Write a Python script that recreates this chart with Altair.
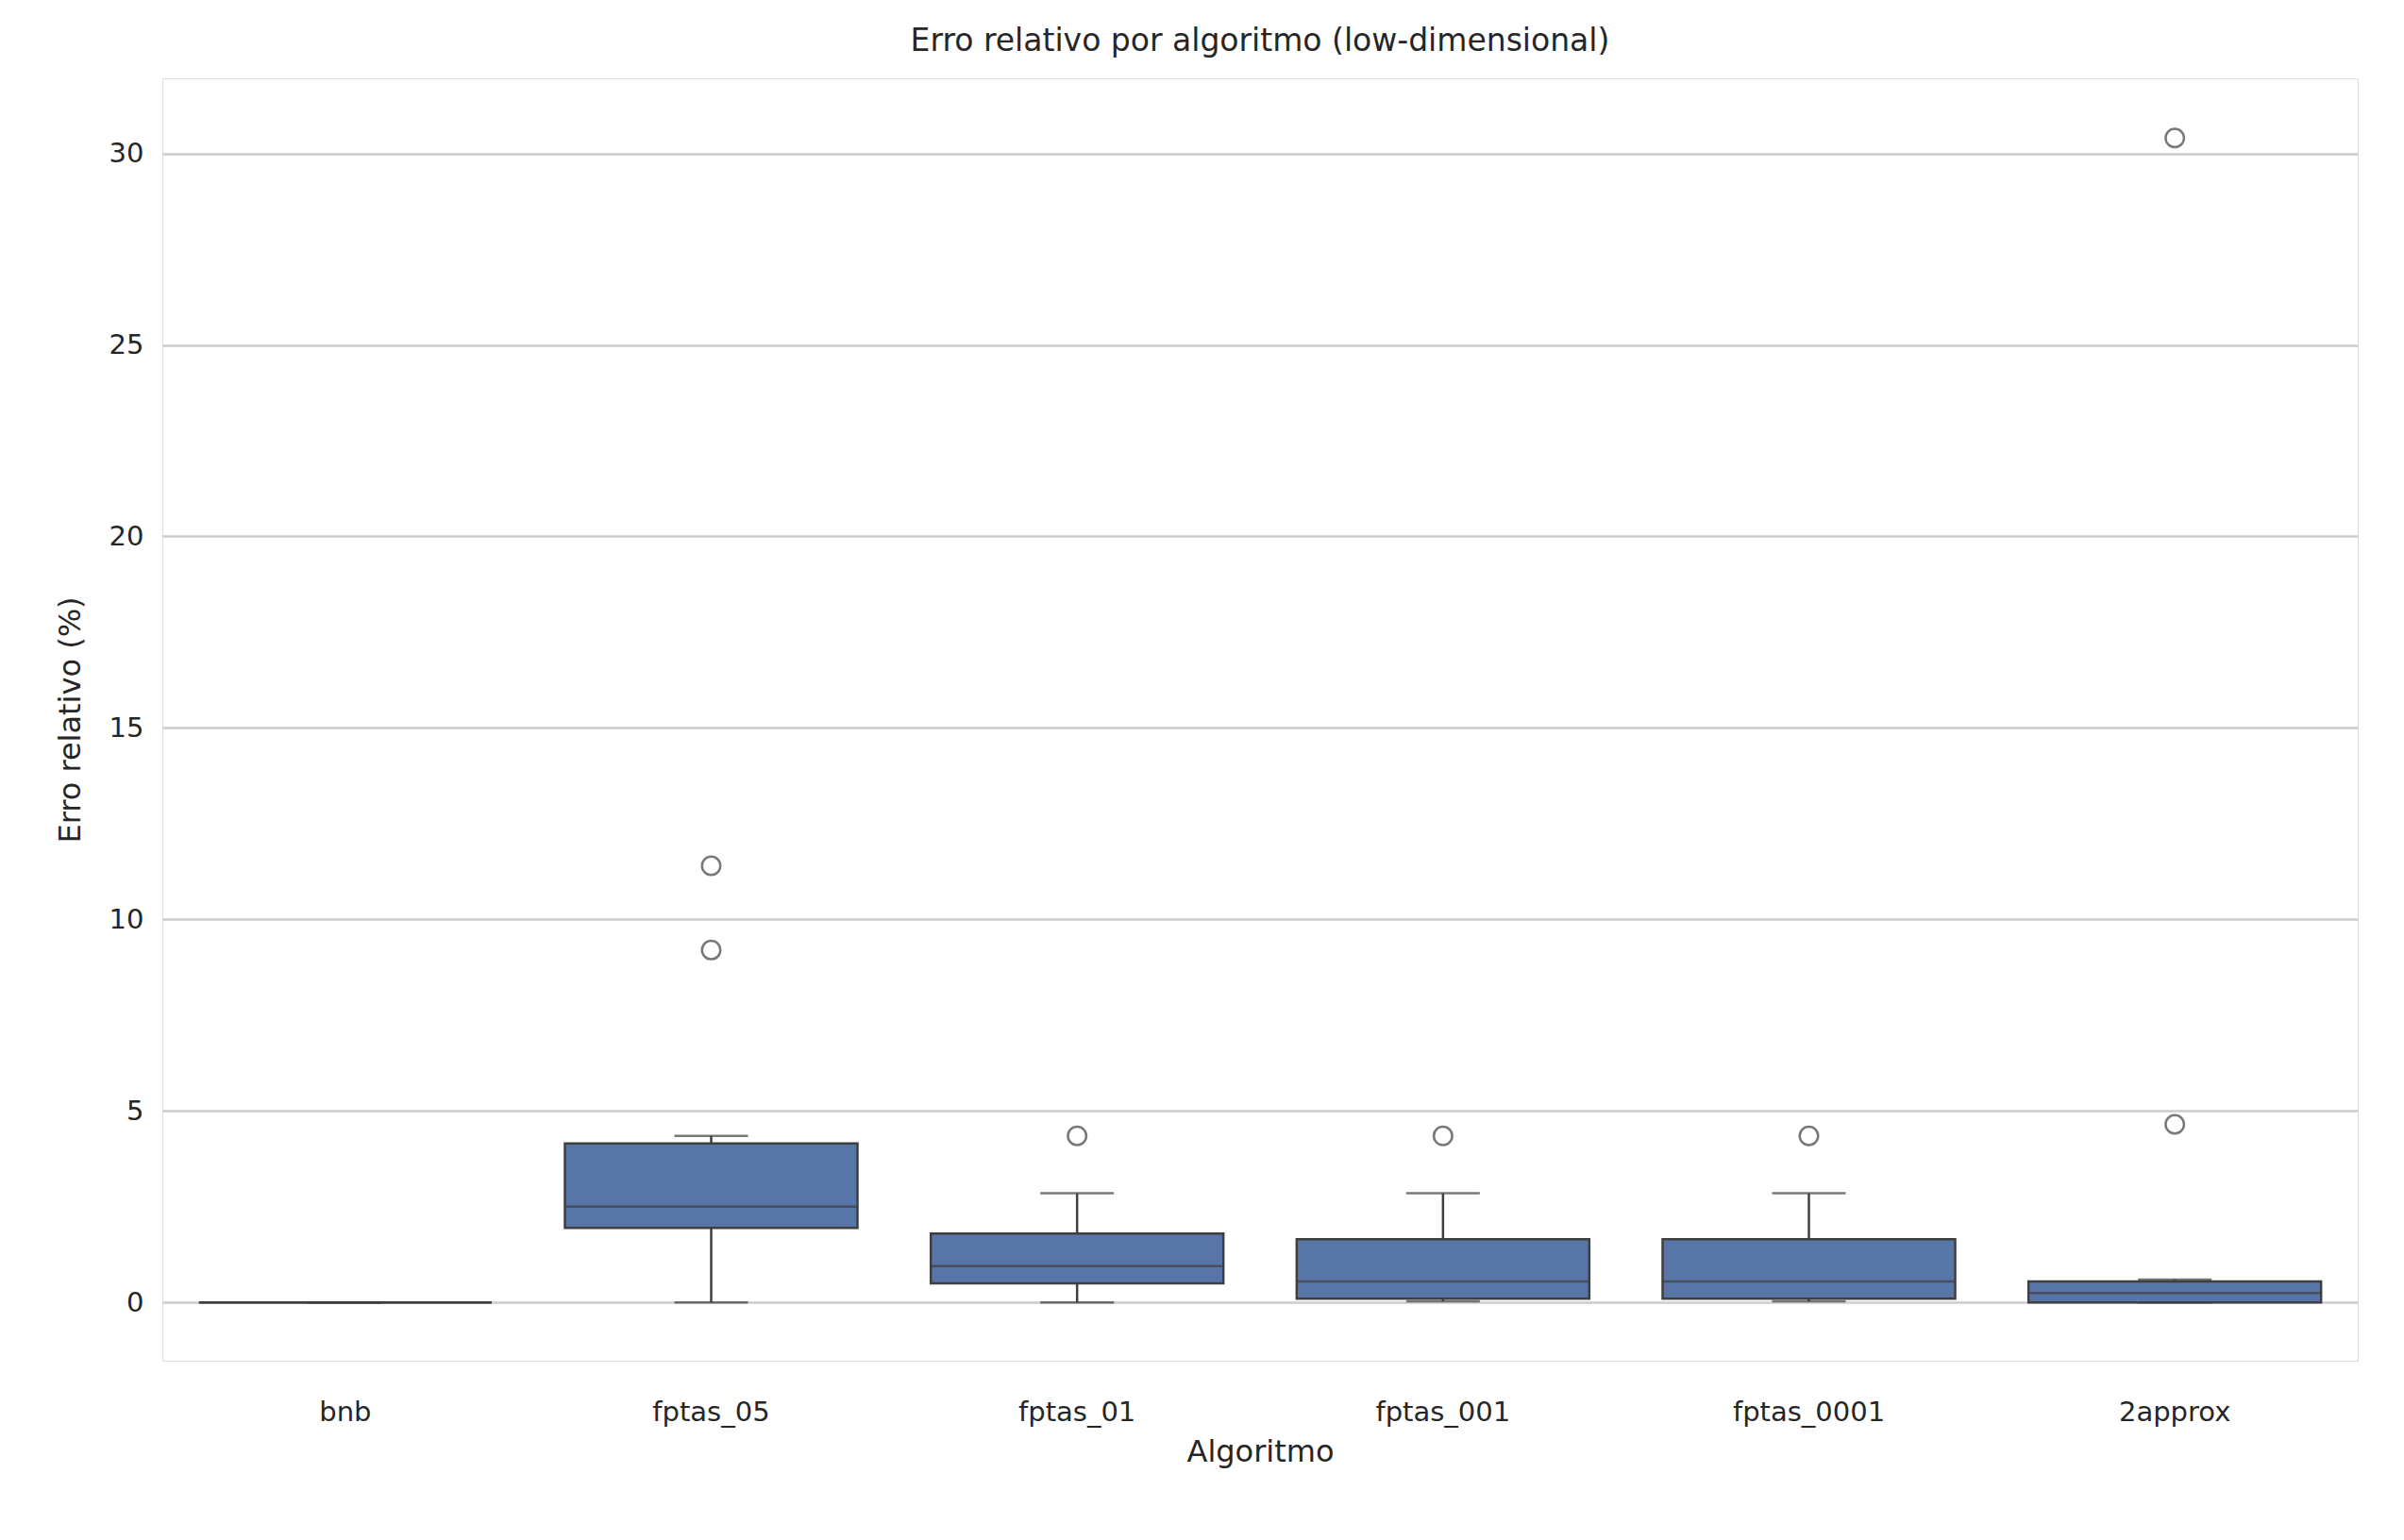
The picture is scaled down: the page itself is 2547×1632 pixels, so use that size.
import altair as alt
import pandas as pd

algos = ["bnb", "fptas_05", "fptas_01", "fptas_001", "fptas_0001", "2approx"]
lower = [0, 0, 0, 0.03, 0.03, 0]
q1 = [0, 1.95, 0.5, 0.1, 0.1, 0]
median = [0, 2.5, 0.95, 0.55, 0.55, 0.25]
q3 = [0, 4.15, 1.8, 1.65, 1.65, 0.55]
upper = [0, 4.35, 2.85, 2.85, 2.85, 0.6]
out_algo = ["fptas_05", "fptas_05", "fptas_01", "fptas_001", "fptas_0001", "2approx", "2approx"]
out_val = [9.2, 11.4, 4.35, 4.35, 4.35, 4.65, 30.4]

df = pd.DataFrame({"a": algos, "lo": lower, "q1": q1, "med": median, "q3": q3, "hi": upper})
dfo = pd.DataFrame({"a": out_algo, "v": out_val})

edge = "#3f3f3f"
x = alt.X("a:N", sort=algos, title="Algoritmo",
          scale=alt.Scale(paddingInner=0, paddingOuter=0),
          axis=alt.Axis(labelAngle=0, grid=False, ticks=False, domain=False,
                        labelFontSize=29, titleFontSize=32, labelPadding=40, titlePadding=12,
                        titleFontWeight="normal", titleColor="#262626", labelColor="#262626"))
ysc = alt.Scale(domain=[-1.52, 31.96], nice=False, zero=False)
yax = alt.Axis(values=[0, 5, 10, 15, 20, 25, 30], ticks=False, domain=False, labelFontSize=29,
               titleFontSize=32, titleFontWeight="normal", gridColor="#cccccc", gridWidth=2.5,
               labelPadding=20, titlePadding=24, titleColor="#262626", labelColor="#262626")

base = alt.Chart(df)
whisk = base.mark_rule(color=edge, strokeWidth=2.5).encode(
    x=x, y=alt.Y("lo:Q", scale=ysc, axis=yax, title="Erro relativo (%)"), y2="hi:Q")
box = base.mark_bar(size=310, color="#5875a8", stroke=edge, strokeWidth=2.5).encode(
    x=x, y=alt.Y("q1:Q", scale=ysc), y2="q3:Q")
med = base.mark_tick(size=310, color=edge, thickness=2.5).encode(x=x, y=alt.Y("med:Q", scale=ysc))
capl = base.mark_tick(size=78, color=edge, thickness=2.5).encode(x=x, y=alt.Y("lo:Q", scale=ysc))
caph = base.mark_tick(size=78, color=edge, thickness=2.5).encode(x=x, y=alt.Y("hi:Q", scale=ysc))
pts = alt.Chart(dfo).mark_point(size=380, color=edge, strokeWidth=2.5, filled=False).encode(
    x=x, y=alt.Y("v:Q", scale=ysc))

chart = alt.layer(whisk, box, med, capl, caph, pts).properties(
    width=2326, height=1359,
    padding={"left": 50, "top": 20, "right": 10, "bottom": 10},
    title=alt.TitleParams("Erro relativo por algoritmo (low-dimensional)", fontSize=33,
                          fontWeight="normal", color="#262626", offset=22)
).configure_view(stroke="#c8c8c8", strokeWidth=4).configure(font="DejaVu Sans", background="white")

chart.save("out.html", embed_options={"renderer": "svg", "actions": False})
